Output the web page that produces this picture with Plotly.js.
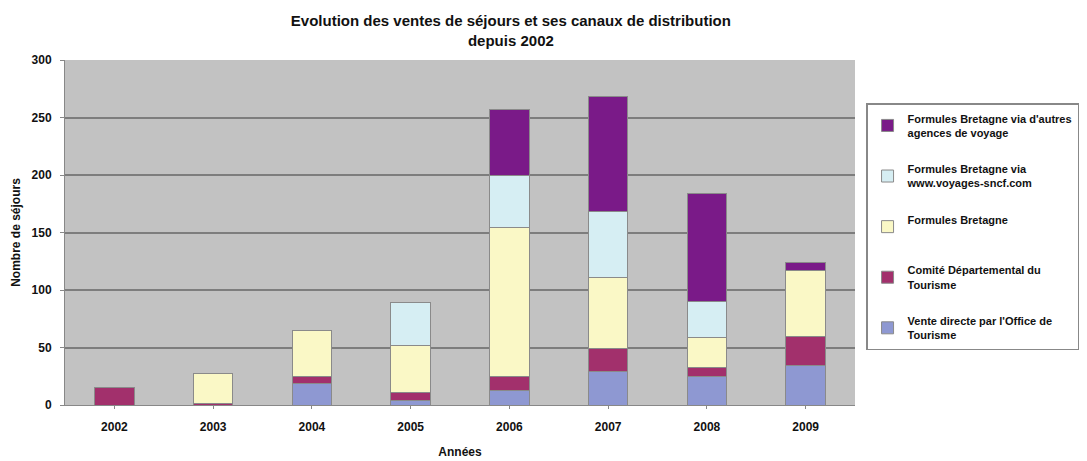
<!DOCTYPE html>
<html><head><meta charset="utf-8">
<script src="https://cdn.plot.ly/plotly-3.0.1.min.js"></script>
<style>body{margin:0;background:#fff}#c{width:1087px;height:461px}</style>
</head><body><div id="c"></div>
<script>
const years = ['2002','2003','2004','2005','2006','2007','2008','2009'];
const venteDirecte = [0, 0, 19, 4, 13, 29, 25, 34];
const comite = [15, 1, 6, 7, 12, 20, 8, 26];
const formules = [0, 26, 40, 41, 129, 62, 26, 57];
const sncf = [0, 0, 0, 37, 46, 57, 31, 0];
const autres = [0, 0, 0, 0, 57, 100, 94, 7];
const names = [
  "Vente directe par l'Office de<br>Tourisme",
  "Comité Départemental du<br>Tourisme",
  "Formules Bretagne<br> ",
  "Formules Bretagne via<br>www.voyages-sncf.com",
  "Formules Bretagne via d'autres<br>agences de voyage"
];
const series = [venteDirecte, comite, formules, sncf, autres];
const colors = ['#8E98D2', '#A2306C', '#FAF8C6', '#D6EEF3', '#7A1A88'];
const traces = series.map((s, i) => ({
  type: 'bar', x: years, y: s, name: names[i], legendgroup: 'g' + i, legendrank: 1000 - i,
  marker: {color: colors[i], line: {color: '#8a8a8a', width: 1}}
}));
const fnt = {family: '"Liberation Sans Narrow", "Arial Narrow", "Liberation Sans", Arial, sans-serif', color: '#111', weight: 'bold'};
Plotly.newPlot('c', traces, {
  width: 1087, height: 461,
  barmode: 'stack', bargap: 0.6,
  paper_bgcolor: '#fff', plot_bgcolor: '#C2C2C2',
  margin: {l: 65, r: 232, t: 60, b: 56, autoexpand: false},
  title: {text: 'Evolution des ventes de séjours et ses canaux de distribution<br>depuis 2002',
    font: Object.assign({}, fnt, {size: 15}), x: 0.47, xanchor: 'center', yref: 'container', y: 0.943, yanchor: 'middle'},
  xaxis: {tickfont: Object.assign({}, fnt, {size: 12}), showgrid: false, linecolor: '#888', showline: true,
    ticks: 'outside', ticklen: 3, tickcolor: '#888', ticklabelstandoff: 8,
    title: {text: 'Années', font: Object.assign({}, fnt, {size: 12}), standoff: 14}},
  yaxis: {range: [0, 300], dtick: 50, tickfont: Object.assign({}, fnt, {size: 12}),
    gridcolor: '#7d7d7d', gridwidth: 2, showline: true, linecolor: '#888', zeroline: false,
    ticks: 'outside', ticklen: 4, tickcolor: '#888', ticklabelstandoff: 6,
    title: {text: 'Nombre de séjours', font: Object.assign({}, fnt, {size: 12}), standoff: 8}},
  legend: {x: 1.014, y: 0.875, xanchor: 'left', yanchor: 'top', traceorder: 'grouped',
    bordercolor: '#888', borderwidth: 1.5, bgcolor: '#fff',
    font: Object.assign({}, fnt, {size: 11}), tracegroupgap: 19, itemwidth: 30}
}, {displayModeBar: false, staticPlot: true});
</script></body></html>
